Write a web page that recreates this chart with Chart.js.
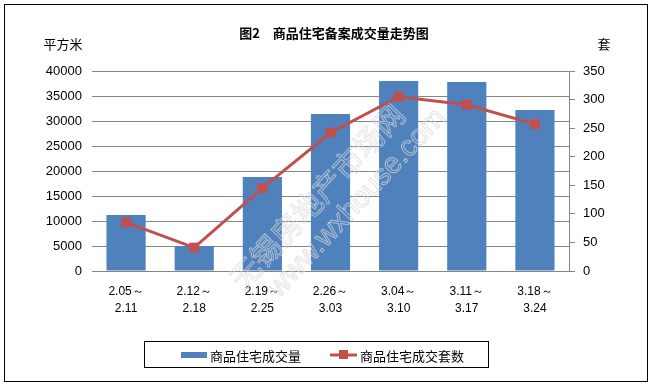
<!DOCTYPE html>
<html>
<head>
<meta charset="utf-8">
<script src="https://cdn.jsdelivr.net/npm/chart.js@4"></script>
<style>
  html, body { margin: 0; padding: 0; background: #fff; }
  #wrap { width: 651px; height: 386px; }
</style>
</head>
<body>
<div id="wrap"><canvas id="chart" width="651" height="386"></canvas></div>
<script>
// weeks on the x axis (two lines each)
const weeks = [
    ['2.05～', '2.11'],
    ['2.12～', '2.18'],
    ['2.19～', '2.25'],
    ['2.26～', '3.03'],
    ['3.04～', '3.10'],
    ['3.11～', '3.17'],
    ['3.18～', '3.24'],
];

// floor area sold, square metres
const areaSold = [11200, 5000, 18800, 31400, 38000, 37800, 32200];
// number of units sold
const unitsSold = [85, 41, 145, 242, 305, 291, 257];

const titleText = '图2　商品住宅备案成交量走势图';
const areaLabel = '商品住宅成交量';
const unitsLabel = '商品住宅成交套数';

const cjk = '"Noto Sans CJK SC", "Noto Sans", sans-serif';
const num = '"Liberation Sans", "DejaVu Sans", sans-serif';
const gridColor = '#868686';

// title, units, outer frame, legend and watermark
const decorations = {
    id: 'decorations',
    beforeDraw(chart) {
        const ctx = chart.ctx;
        ctx.save();
        ctx.fillStyle = '#fff';
        ctx.fillRect(0, 0, chart.width, chart.height);
        ctx.restore();
    },
    afterDatasetDraw(chart, args) {
        if (args.index !== 1) return;
        const ctx = chart.ctx;
        ctx.save();
        // watermark, under the line
        ctx.translate(330, 200);
        ctx.rotate(-47 * Math.PI / 180);
        ctx.lineWidth = 1;
        ctx.strokeStyle = 'rgba(215,215,215,0.7)';
        ctx.textAlign = 'center';
        ctx.textBaseline = 'middle';
        ctx.font = '30px ' + cjk;
        ctx.strokeText('无锡房地产市场网', -6, -12);
        ctx.font = '29px ' + num;
        ctx.strokeText('www.wxhouse.com', 16, 22);
        ctx.restore();
    },
    afterDraw(chart) {
        const ctx = chart.ctx;
        ctx.save();
        // outer frame
        ctx.strokeStyle = '#000';
        ctx.lineWidth = 1;
        ctx.strokeRect(4.5, 4.5, 643, 377);

        // title
        ctx.fillStyle = '#000';
        ctx.textAlign = 'center';
        ctx.textBaseline = 'middle';
        ctx.font = 'bold 13px ' + cjk;
        ctx.fillText(titleText, 334, 33);

        // unit labels
        ctx.font = '13px ' + cjk;
        ctx.fillText('平方米', 63, 44);
        ctx.fillText('套', 604, 44);

        // legend
        ctx.strokeRect(144.5, 341.5, 344, 26);
        ctx.fillStyle = '#4F81BD';
        ctx.fillRect(181, 352, 26, 6);
        ctx.fillStyle = '#000';
        ctx.textAlign = 'left';
        ctx.font = '13px ' + cjk;
        ctx.fillText(areaLabel, 210, 356);
        ctx.strokeStyle = '#C0504D';
        ctx.lineWidth = 3;
        ctx.beginPath();
        ctx.moveTo(330, 355);
        ctx.lineTo(357, 355);
        ctx.stroke();
        ctx.fillStyle = '#C0504D';
        ctx.fillRect(339, 350, 9, 9);
        ctx.fillStyle = '#000';
        ctx.fillText(unitsLabel, 360, 356);
        ctx.restore();
    }
};

const plainNumber = (v) => String(v);

const chart = new Chart(document.getElementById('chart'), {
    data: {
        labels: weeks,
        datasets: [
            {
                type: 'line',
                label: unitsLabel,
                data: unitsSold,
                yAxisID: 'y2',
                borderColor: '#C0504D',
                backgroundColor: '#C0504D',
                borderWidth: 3,
                pointStyle: 'rect',
                pointRadius: 7,
                pointBorderWidth: 0,
                tension: 0,
                order: 0,
            },
            {
                type: 'bar',
                label: areaLabel,
                data: areaSold,
                yAxisID: 'y',
                backgroundColor: '#4F81BD',
                categoryPercentage: 1,
                barPercentage: 0.575,
                order: 1,
            },
        ],
    },
    options: {
        responsive: false,
        animation: false,
        layout: { padding: { top: 71, left: 0, right: 0, bottom: 0 } },
        plugins: {
            legend: { display: false },
            title: { display: false },
            tooltip: { enabled: false },
        },
        scales: {
            x: {
                grid: { display: false },
                border: { display: true, color: gridColor },
                ticks: {
                    color: '#000',
                    font: { family: num, size: 12, lineHeight: 1.45 },
                    padding: 4,
                    maxRotation: 0,
                    autoSkip: false,
                },
                afterFit(scale) { scale.height = 115; },
            },
            y: {
                position: 'left',
                min: 0,
                max: 40000,
                ticks: {
                    stepSize: 5000,
                    color: '#000',
                    font: { family: num, size: 13 },
                    padding: 10,
                    callback: plainNumber,
                },
                grid: { color: gridColor, drawTicks: false, lineWidth: 1 },
                border: { display: false },
                afterFit(scale) { scale.width = 92; },
            },
            y2: {
                position: 'right',
                min: 0,
                max: 350,
                ticks: {
                    stepSize: 50,
                    color: '#000',
                    font: { family: num, size: 13 },
                    padding: 8,
                    callback: plainNumber,
                },
                grid: { drawOnChartArea: false, color: gridColor, tickLength: 6 },
                border: { display: true, color: gridColor },
                afterFit(scale) { scale.width = 82; },
            },
        },
    },
    plugins: [decorations],
});
</script>
</body>
</html>
